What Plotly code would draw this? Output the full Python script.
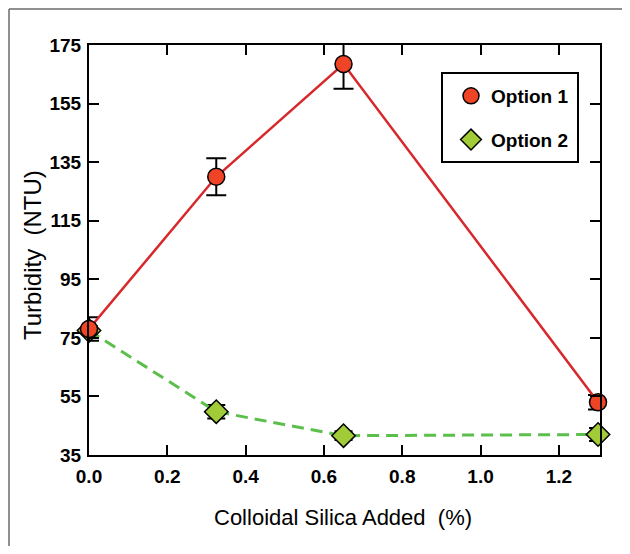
import plotly.graph_objects as go

# ---- data ----
silica_pct = [0.0, 0.325, 0.65, 1.3]
option1 = [78.0, 130.0, 168.5, 53.0]
option1_err = [4.0, 6.3, 8.4, 2.5]
option2 = [77.5, 49.8, 41.6, 42.0]
option2_err = [1.5, 2.3, 1.5, 2.2]
series_names = ["Option 1", "Option 2"]
y_ticks = [35, 55, 75, 95, 115, 135, 155, 175]
x_ticks = [0.0, 0.2, 0.4, 0.6, 0.8, 1.0, 1.2]

FONT = "Liberation Sans, Arial, Helvetica, sans-serif"
RED_LINE = "#D7282B"
RED_FILL = "#F04427"
GREEN_LINE = "#5CBF4B"
GREEN_FILL = "#A2CB38"

# the page body has an 8px margin, so the figure sits at (8, 8) in the window
OFF = 8
W, H = 630 - 2 * OFF, 554 - 2 * OFF
# plot area in window pixels: x 89..600, y 45..455
PL, PR, PT, PB = 89, 600, 45, 455
L, T = PL - OFF, PT - OFF
R, B = W - (PR - OFF), H - (PB - OFF)
PW, PH = PR - PL, PB - PT


def px_x(p):
    return (p - PL) / PW


def px_y(p):
    return (PB - p) / PH


fig = go.Figure()

fig.add_trace(go.Scatter(
    x=silica_pct, y=option2, mode="lines+markers", showlegend=False,
    line=dict(color=GREEN_LINE, width=3, dash="12px,7px"),
    marker=dict(symbol="diamond", size=18, color=GREEN_FILL,
                line=dict(color="black", width=1.5)),
    error_y=dict(type="data", array=option2_err, color="black",
                 thickness=2, width=9),
    cliponaxis=False,
))
fig.add_trace(go.Scatter(
    x=silica_pct, y=option1, mode="lines+markers", showlegend=False,
    line=dict(color=RED_LINE, width=2.5),
    marker=dict(symbol="circle", size=17, color=RED_FILL,
                line=dict(color="black", width=1.5)),
    error_y=dict(type="data", array=option1_err, color="black",
                 thickness=2, width=10),
    cliponaxis=False,
))

# legend-only traces (marker only)
fig.add_trace(go.Scatter(
    x=[None], y=[None], mode="markers", name=series_names[0],
    legendgroup="a",
    marker=dict(symbol="circle", size=16, color=RED_FILL,
                line=dict(color="black", width=1.5)),
))
fig.add_trace(go.Scatter(
    x=[None], y=[None], mode="markers", name=series_names[1],
    legendgroup="b",
    marker=dict(symbol="diamond", size=16, color=GREEN_FILL,
                line=dict(color="black", width=1.5)),
))

axis_common = dict(
    showline=True, linecolor="black", linewidth=2, mirror="ticks",
    ticks="inside", ticklen=10, tickwidth=2, tickcolor="black",
    showgrid=False, zeroline=False,
    tickfont=dict(family=FONT, size=19, color="black", weight="bold"),
)

fig.update_xaxes(range=[0, 1.305], tickvals=x_ticks,
                 ticktext=[f"{v:.1f}" for v in x_ticks],
                 ticklabelstandoff=3, **axis_common)
fig.update_yaxes(range=[35, 175], tickvals=y_ticks,
                 ticktext=[str(v) for v in y_ticks],
                 ticklabelstandoff=2, **axis_common)

frame_line = dict(color="#6a6a6a", width=1.5)

fig.update_layout(
    width=W, height=H,
    margin=dict(l=L, r=R, t=T, b=B, autoexpand=False),
    paper_bgcolor="white", plot_bgcolor="white",
    font=dict(family=FONT, color="black"),
    legend=dict(
        x=px_x(451), y=px_y(77), xanchor="left", yanchor="top",
        bgcolor="rgba(0,0,0,0)", borderwidth=0,
        font=dict(family=FONT, size=19, color="black", weight="bold"),
        tracegroupgap=16, itemsizing="trace",
    ),
    annotations=[
        dict(text="Colloidal Silica Added\u00a0 (%)", xref="paper",
             yref="paper", x=px_x(343), y=px_y(518), xanchor="center",
             yanchor="middle", showarrow=False,
             font=dict(family=FONT, size=22, color="black")),
        dict(text="Turbidity\u00a0 (NTU)", xref="paper", yref="paper",
             x=px_x(32), y=px_y(255), xanchor="center", yanchor="middle",
             textangle=-90, showarrow=False,
             font=dict(family=FONT, size=24, color="black")),
    ],
    shapes=[
        # legend box
        dict(type="rect", xref="paper", yref="paper",
             x0=px_x(442), x1=px_x(578), y0=px_y(162), y1=px_y(73),
             line=dict(color="black", width=2)),
        # outer frame: only its left and top edges are inside the picture
        dict(type="line", xref="paper", yref="paper",
             x0=px_x(OFF + 1), x1=px_x(OFF + 1),
             y0=px_y(OFF + 1), y1=px_y(OFF + H),
             line=frame_line, layer="below"),
        dict(type="line", xref="paper", yref="paper",
             x0=px_x(OFF + 1), x1=px_x(OFF + W),
             y0=px_y(OFF + 1), y1=px_y(OFF + 1),
             line=frame_line, layer="below"),
    ],
)

fig.write_html("out.html")
